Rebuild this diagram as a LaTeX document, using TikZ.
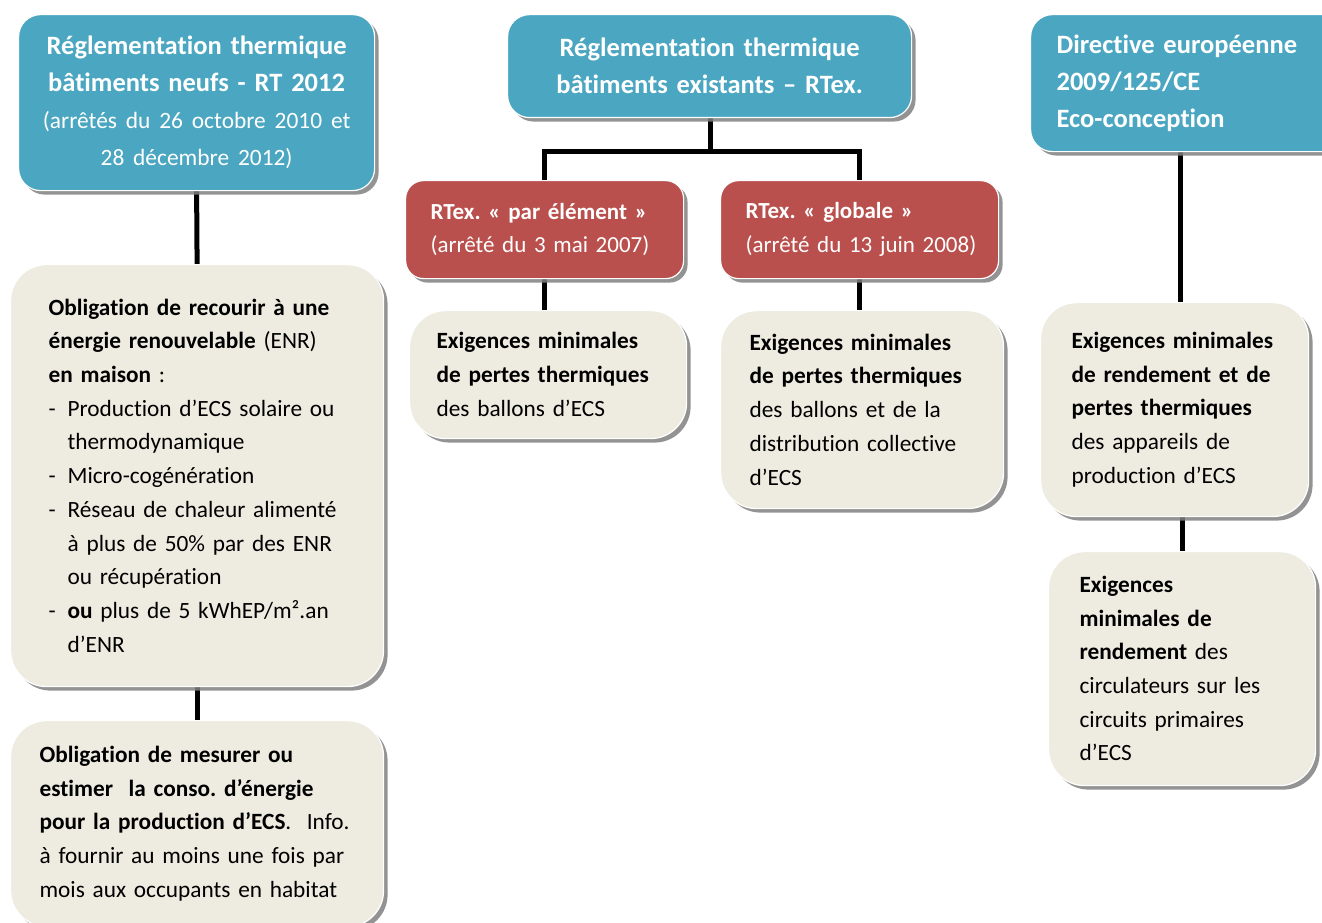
\documentclass[tikz,border=0pt]{standalone}
\usepackage{fontspec}
\setmainfont{Carlito}[Ligatures=NoCommon]
\usetikzlibrary{shadows,backgrounds}
\definecolor{hdblue}{HTML}{4BA6C1}
\definecolor{hdred}{HTML}{B9504D}
\definecolor{bxbeige}{HTML}{EEECE1}
\newcommand{\li}[1]{\mbox{#1}\\}
\newcommand{\lz}[1]{\mbox{#1}}
\newcommand{\smallreg}{\fontsize{23.4}{37}\selectfont}
\frenchspacing
\tikzset{
  basebox/.style={draw=white, line width=1.2pt, anchor=north west, inner ysep=0pt,
    drop shadow={shadow xshift=4pt, shadow yshift=-4pt, fill=black!50, opacity=0.85}},
  bluebox/.style={basebox, fill=hdblue, rounded corners=22pt, text=white,
    font=\fontsize{26.5}{37}\selectfont},
  redbox/.style={basebox, fill=hdred, rounded corners=18pt, text=white,
    font=\fontsize{23}{33.5}\selectfont, align=left},
  beigebox/.style={basebox, fill=bxbeige, rounded corners=36pt, text=black,
    font=\fontsize{23.3}{33.7}\selectfont, align=left},
  link/.style={line width=5pt, draw=black}
}
\begin{document}
\begin{tikzpicture}[x=1pt,y=-1pt]
\useasboundingbox (0,0) rectangle (1322,923);

% blue headers
\node[bluebox, align=center, minimum width=356pt, minimum height=176pt, text width=326pt, inner xsep=15pt] (rt) at (18,14)
 {\li{\bfseries Réglementation thermique}\li{\bfseries bâtiments neufs - RT 2012}\li{\smallreg(arrêtés du 26 octobre 2010 et}\lz{\smallreg 28 décembre 2012)}};
\node[bluebox, align=center, minimum width=404pt, minimum height=103pt, text width=374pt, inner xsep=15pt] (rtex) at (507,14)
 {\li{\bfseries Réglementation thermique}\lz{\bfseries bâtiments existants – RTex.}};
\node[bluebox, align=left, minimum width=320pt, minimum height=137pt, text width=268pt, inner xsep=26pt] (dir) at (1030,14)
 {\li{\bfseries Directive européenne}\li{\bfseries 2009/125/CE}\lz{\bfseries Eco-conception}};

% red boxes
\node[redbox, minimum width=278pt, minimum height=98pt, text width=228pt, inner xsep=25pt] (elem) at (405,180)
 {\li{\bfseries RTex. « par élément »}\lz{(arrêté du 3 mai 2007)}};
\node[redbox, minimum width=278pt, minimum height=98pt, text width=228pt, inner xsep=25pt] (glob) at (720,180)
 {\li{\bfseries RTex. « globale »}\lz{(arrêté du 13 juin 2008)}};

% beige boxes
\node[beigebox, minimum width=373pt, minimum height=422pt, text width=297pt, inner xsep=38pt] (enr) at (10,264)
 {\li{\bfseries Obligation de recourir à une}%
  \li{\textbf{énergie renouvelable} (ENR)}%
  \li{\textbf{en maison} :}%
  \li{\makebox[19pt][l]{-}Production d’ECS solaire ou}%
  \li{\hspace*{19pt}thermodynamique}%
  \li{\makebox[19pt][l]{-}Micro-cogénération}%
  \li{\makebox[19pt][l]{-}Réseau de chaleur alimenté}%
  \li{\hspace*{19pt}à plus de 50\% par des ENR}%
  \li{\hspace*{19pt}ou récupération}%
  \li{\makebox[19pt][l]{-}\textbf{ou} plus de 5 kWhEP/m².an}%
  \lz{\hspace*{19pt}d’ENR}};
\node[beigebox, minimum width=373pt, minimum height=206pt, text width=315pt, inner xsep=29pt] (mes) at (10,720)
 {\li{\bfseries Obligation de mesurer ou}%
  \li{\bfseries estimer\ \ la conso. d’énergie}%
  \li{\textbf{pour la production d’ECS}.\ \ Info.}%
  \li{à fournir au moins une fois par}%
  \lz{mois aux occupants en habitat}};
\node[beigebox, minimum width=277pt, minimum height=128pt, text width=223pt, inner xsep=27pt] (ball) at (409,310)
 {\li{\bfseries Exigences minimales}%
  \li{\bfseries de pertes thermiques}%
  \lz{des ballons d’ECS}};
\node[beigebox, minimum width=283pt, minimum height=198pt, text width=225pt, inner xsep=29pt] (dist) at (720,310)
 {\li{\bfseries Exigences minimales}%
  \li{\bfseries de pertes thermiques}%
  \li{des ballons et de la}%
  \li{distribution collective}%
  \lz{d’ECS}};
\node[beigebox, minimum width=268pt, minimum height=214pt, text width=206pt, inner xsep=31pt] (app) at (1040,302)
 {\li{\bfseries Exigences minimales}%
  \li{\bfseries de rendement et de}%
  \li{\bfseries pertes thermiques}%
  \li{des appareils de}%
  \lz{production d’ECS}};
\node[beigebox, minimum width=267pt, minimum height=234pt, text width=205pt, inner xsep=31pt] (circ) at (1048,551)
 {\li{\bfseries Exigences}%
  \li{\bfseries minimales de}%
  \li{\textbf{rendement} des}%
  \li{circulateurs sur les}%
  \li{circuits primaires}%
  \lz{d’ECS}};

% connectors
\begin{scope}[on background layer]
\coordinate (join) at (710,151);
\coordinate (dirfoot) at (1180,151);
\coordinate (appfoot) at (1182,516);
\draw[link] (rt.south) -- (enr.north);
\draw[link] (enr.south) -- (mes.north);
\draw[link] (join |- rtex.south) -- (join);
\draw[link] (elem.north) |- (join) -| (glob.north);
\draw[link] (elem.south) -- (elem.south |- ball.north);
\draw[link] (glob.south) -- (glob.south |- dist.north);
\draw[link] (dirfoot) -- (dirfoot |- app.north);
\draw[link] (appfoot) -- (appfoot |- circ.north);
\end{scope}
\end{tikzpicture}
\end{document}
